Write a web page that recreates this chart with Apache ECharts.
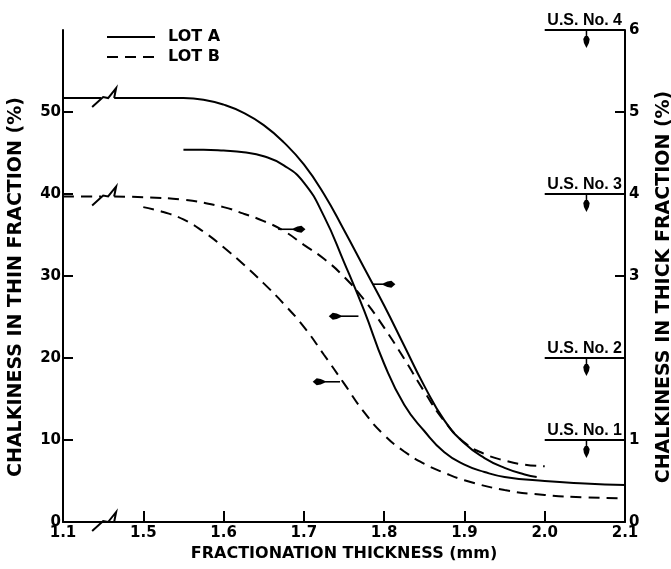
<!DOCTYPE html>
<html><head><meta charset="utf-8">
<script src="https://cdn.jsdelivr.net/npm/echarts@6/dist/echarts.min.js"></script>
<style>html,body{margin:0;padding:0;background:#fff}#c{width:671px;height:569px}</style>
</head><body><div id="c"></div>
<script>
// ---- tick labels (x axis has a break between 1.1 and 1.5) ----
const xTickValues = [1.1, 1.5, 1.6, 1.7, 1.8, 1.9, 2.0, 2.1];
const xTickLabels = ['1.1', '1.5', '1.6', '1.7', '1.8', '1.9', '2.0', '2.1'];
const xTickMarks = [1.5, 1.6, 1.7, 1.8, 1.9, 2.0];
const leftTickMarks = [10, 20, 30, 40, 50];
const leftTickLabels = [0, 10, 20, 30, 40, 50];
const rightTickMarks = [3, 5];
const rightTickLabels = [0, 1, 3, 4, 5, 6];

// ---- LOT A, thick fraction (right axis, %) ----
const lotAThickX = [1.1, 1.5, 1.55, 1.575, 1.6, 1.625, 1.65, 1.675, 1.7, 1.725, 1.75, 1.775, 1.8, 1.825, 1.85, 1.875, 1.9, 1.925, 1.95, 1.975, 1.99];
const lotAThickY = [5.17, 5.17, 5.17, 5.15, 5.09, 4.99, 4.84, 4.63, 4.36, 4.00, 3.56, 3.10, 2.64, 2.15, 1.66, 1.24, 0.96, 0.78, 0.66, 0.58, 0.55];
// ---- LOT B, thick fraction (right axis, %) ----
const lotBThickX = [1.1, 1.5, 1.55, 1.6, 1.625, 1.65, 1.675, 1.7, 1.725, 1.75, 1.775, 1.8, 1.825, 1.85, 1.875, 1.9, 1.925, 1.95, 1.975, 2.0];
const lotBThickY = [3.97, 3.96, 3.93, 3.84, 3.76, 3.67, 3.55, 3.38, 3.21, 2.99, 2.71, 2.37, 1.99, 1.59, 1.23, 0.97, 0.83, 0.75, 0.70, 0.68];
// ---- LOT A, thin fraction (left axis, %) ----
const lotAThinX = [1.55, 1.575, 1.6, 1.625, 1.65, 1.675, 1.7, 1.725, 1.75, 1.775, 1.8, 1.825, 1.85, 1.875, 1.9, 1.925, 1.95, 2.0, 2.05, 2.1];
const lotAThinY = [45.4, 45.4, 45.3, 45.1, 44.6, 43.5, 41.4, 37.3, 31.7, 25.8, 19.3, 14.3, 11.1, 8.5, 7.0, 6.1, 5.5, 5.0, 4.7, 4.5];
// ---- LOT B, thin fraction (left axis, %) ----
const lotBThinX = [1.5, 1.525, 1.55, 1.575, 1.6, 1.625, 1.65, 1.675, 1.7, 1.725, 1.75, 1.775, 1.8, 1.825, 1.85, 1.875, 1.9, 1.95, 2.0, 2.05, 2.1];
const lotBThinY = [38.4, 37.8, 36.9, 35.4, 33.5, 31.4, 29.1, 26.6, 23.8, 20.4, 16.9, 13.4, 10.6, 8.6, 7.1, 6.0, 5.1, 3.9, 3.3, 3.0, 2.9];

// ---- pointer arrows: tail x, head x, level (left-axis units) ----
const arrowTailX = [1.668, 1.785, 1.768, 1.745];
const arrowHeadX = [1.702, 1.814, 1.731, 1.711];
const arrowLevel = [35.7, 29.0, 25.1, 17.1];

// ---- U.S. grade limits (right axis, %) ----
const usGradeLevels = [1, 2, 4, 6];
const usGradeLabels = ['U.S. No. 1', 'U.S. No. 2', 'U.S. No. 3', 'U.S. No. 4'];
const usLineFrom = 2.0, usLineTo = 2.1, usArrowX = 2.052;

// break on the x axis: real 1.1..1.5 drawn compressed into one interval
const breakAt = 1.3, gapFrom = 1.29, gapTo = 1.355;
function toAxis(x) { return x < 1.5 ? 1.4 + (x - 1.1) * 0.25 : x; }
function fromAxis(v) { return v < 1.5 ? 1.1 + (v - 1.4) * 4 : v; }

function lineData(xs, ys, withBreak) {
  const out = [];
  for (let i = 0; i < xs.length; i++) {
    if (withBreak && i === 1) {
      out.push([toAxis(gapFrom), ys[0]]);
      out.push([toAxis(gapFrom) + 0.0001, '-']);
      out.push([toAxis(gapTo), ys[0]]);
    }
    out.push([toAxis(xs[i]), ys[i]]);
  }
  return out;
}

const FONT = 'DejaVu Sans';
const BLACK = '#000';
const DASH = [11, 7];

const breakShape = [[-11, 9], [0, -1], [5, 0], [13, -10], [11, 0]];
function breakItem(params, api) {
  const p = api.coord([api.value(0), api.value(1)]);
  return {
    type: 'polyline',
    shape: { points: breakShape.map(d => [p[0] + d[0], p[1] + d[1]]) },
    style: { stroke: BLACK, lineWidth: 2, fill: null }
  };
}
function arrowItem(params, api) {
  const t = api.coord([api.value(0), api.value(2)]);
  const h = api.coord([api.value(1), api.value(2)]);
  const dir = h[0] > t[0] ? 1 : -1;
  const L = 12, W = 3.5;
  return {
    type: 'group', children: [
      { type: 'line', shape: { x1: t[0], y1: t[1], x2: h[0] - dir * 6, y2: h[1] }, style: { stroke: BLACK, lineWidth: 1.6 } },
      { type: 'polygon', shape: { points: [[h[0], h[1]], [h[0] - dir * 4, h[1] - W], [h[0] - dir * 8, h[1] - W * 0.8], [h[0] - dir * L, h[1] - 1], [h[0] - dir * L, h[1] + 1], [h[0] - dir * 8, h[1] + W * 0.8], [h[0] - dir * 4, h[1] + W]] }, style: { fill: BLACK } }
    ]
  };
}
function gradeItem(params, api) {
  const a = api.coord([api.value(0), api.value(1)]);
  const b = api.coord([api.value(2), api.value(1)]);
  const ax = api.coord([api.value(3), api.value(1)])[0];
  const y = a[1];
  return {
    type: 'group', children: [
      { type: 'line', shape: { x1: a[0], y1: y, x2: b[0], y2: y }, style: { stroke: BLACK, lineWidth: 2 } },
      { type: 'text', style: { text: usGradeLabels[params.dataIndex], x: b[0] - 3, y: y - 1, align: 'right', verticalAlign: 'bottom', font: 'bold 16px "Liberation Sans Narrow", "Liberation Sans", sans-serif', fill: BLACK } },
      { type: 'line', shape: { x1: ax, y1: y, x2: ax, y2: y + 7 }, style: { stroke: BLACK, lineWidth: 1.5 } },
      { type: 'polygon', shape: { points: [[ax, y + 18], [ax - 2.5, y + 13], [ax - 3.2, y + 9], [ax - 1.5, y + 6], [ax + 1.5, y + 6], [ax + 3.2, y + 9], [ax + 2.5, y + 13]] }, style: { fill: BLACK } }
    ]
  };
}

const labelStyle = { color: BLACK, fontFamily: FONT, fontWeight: 'bold', fontSize: 15 };
const nameStyle = { color: BLACK, fontFamily: FONT, fontWeight: 'bold', fontSize: 16 };
const vNameStyle = { color: BLACK, fontFamily: FONT, fontWeight: 'bold', fontSize: 19, padding: [0, 22, 0, 0] };

const chart = echarts.init(document.getElementById('c'), null, { renderer: 'canvas' });
chart.setOption({
  animation: false,
  backgroundColor: '#fff',
  grid: { left: 63, right: 46, top: 30, bottom: 47, containLabel: false, outerBoundsMode: 'none' },
  legend: {
    orient: 'vertical', left: 106, top: 29, padding: 0, itemWidth: 48, itemHeight: 14, itemGap: 4,
    data: ['LOT A', 'LOT B'],
    itemStyle: { opacity: 0 },
    textStyle: { color: BLACK, fontFamily: FONT, fontWeight: 'bold', fontSize: 16, padding: [0, 0, 0, 8] },
    selectedMode: false
  },
  xAxis: {
    type: 'value', min: 1.4, max: 2.1, interval: 0.1,
    name: 'FRACTIONATION THICKNESS (mm)', nameLocation: 'middle', nameGap: 24, nameTextStyle: nameStyle,
    axisLine: { show: true, onZero: false, lineStyle: { color: BLACK, width: 2 } },
    axisTick: { show: true, inside: true, length: 11, lineStyle: { color: BLACK, width: 2 }, customValues: xTickMarks.map(toAxis) },
    axisLabel: {
      ...labelStyle, margin: 4, customValues: xTickValues.map(toAxis),
      formatter: v => { const r = Math.round(fromAxis(v) * 10) / 10; const i = xTickValues.findIndex(t => Math.abs(t - r) < 1e-6); return i >= 0 ? xTickLabels[i] : ''; }
    },
    splitLine: { show: false }
  },
  yAxis: [{
    type: 'value', min: 0, max: 60, interval: 10, position: 'left',
    name: 'CHALKINESS IN THIN FRACTION (%)', nameLocation: 'middle', nameGap: 37, nameRotate: 90, nameTextStyle: vNameStyle,
    axisLine: { show: true, onZero: false, lineStyle: { color: BLACK, width: 2 } },
    axisTick: { show: true, inside: true, length: 10, lineStyle: { color: BLACK, width: 2 }, customValues: leftTickMarks },
    axisLabel: { ...labelStyle, margin: 2, customValues: leftTickLabels },
    splitLine: { show: false }
  }, {
    type: 'value', min: 0, max: 6, interval: 1, position: 'right',
    name: 'CHALKINESS IN THICK FRACTION (%)', nameLocation: 'middle', nameGap: 30, nameRotate: 90, nameTextStyle: vNameStyle,
    axisLine: { show: true, onZero: false, lineStyle: { color: BLACK, width: 2 } },
    axisTick: { show: true, inside: true, length: 10, lineStyle: { color: BLACK, width: 2 }, customValues: rightTickMarks },
    axisLabel: { ...labelStyle, margin: 4, customValues: rightTickLabels },
    splitLine: { show: false }
  }],
  series: [
    { name: 'LOT A', type: 'line', yAxisIndex: 1, data: lineData(lotAThickX, lotAThickY, true), symbol: 'none', smooth: 0.5, connectNulls: false, lineStyle: { color: BLACK, width: 2, type: 'solid' }, itemStyle: { color: BLACK } },
    { name: 'LOT B', type: 'line', yAxisIndex: 1, data: lineData(lotBThickX, lotBThickY, true), symbol: 'none', smooth: 0.5, connectNulls: false, lineStyle: { color: BLACK, width: 2, type: DASH }, itemStyle: { color: BLACK } },
    { name: 'LOT A', type: 'line', yAxisIndex: 0, data: lineData(lotAThinX, lotAThinY, false), symbol: 'none', smooth: 0.5, lineStyle: { color: BLACK, width: 2, type: 'solid' }, itemStyle: { color: BLACK } },
    { name: 'LOT B', type: 'line', yAxisIndex: 0, data: lineData(lotBThinX, lotBThinY, false), symbol: 'none', smooth: 0.5, lineStyle: { color: BLACK, width: 2, type: DASH }, itemStyle: { color: BLACK } },
    { type: 'custom', yAxisIndex: 1, clip: false, renderItem: breakItem, z: 5,
      data: [[toAxis(breakAt), lotAThickY[0]], [toAxis(breakAt), lotBThickY[0]], [toAxis(breakAt), 0]] },
    { type: 'custom', yAxisIndex: 0, clip: false, renderItem: arrowItem, z: 5,
      encode: { x: [0, 1], y: 2 },
      data: arrowTailX.map((t, i) => [t, arrowHeadX[i], arrowLevel[i]]) },
    { type: 'custom', yAxisIndex: 1, clip: false, renderItem: gradeItem, z: 5,
      encode: { x: [0, 2], y: 1 },
      data: usGradeLevels.map(lv => [usLineFrom, lv, usLineTo, usArrowX]) }
  ]
});
</script>
</body></html>
